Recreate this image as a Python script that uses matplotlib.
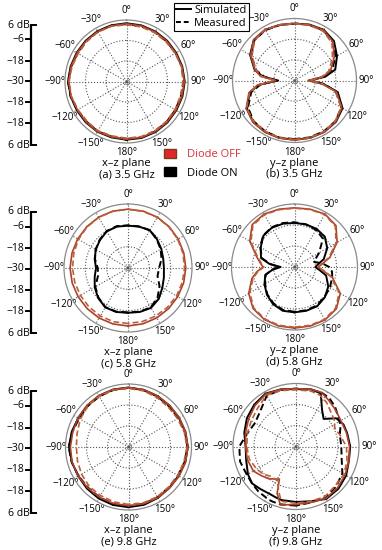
import numpy as np
import matplotlib.pyplot as plt
from matplotlib.lines import Line2D
from matplotlib.patches import Patch

plt.rcParams['font.family'] = ['Open Sans', 'DejaVu Sans']

W, H = 382, 550

# angle grids (deg)
theta_a = [-180, -165, -150, -135, -120, -105, -90, -75, -60, -45, -30, -15, 0,
           15, 30, 45, 60, 75, 90, 105, 120, 135, 150, 165, 180]
theta_b = [-180, -165, -150, -135, -120, -105, -97, -90, -83, -75, -60, -45, -30, -15, 0,
           15, 30, 45, 60, 75, 83, 90, 97, 105, 120, 135, 150, 165, 180]
theta_f = [-180, -165, -158, -153, -140, -130, -120, -105, -90, -75, -60, -45, -30, -15, 0,
           15, 25, 35, 45, 55, 65, 75, 90, 105, 120, 135, 150, 165, 180]

# (a) x-z plane, 3.5 GHz  (dB)
a_off_sim = [3.8, 3.6, 3.9, 3.5, 3.2, 3.6, 3.9, 3.6, 3.4, 3.5, 3.7, 3.8, 3.8,
             3.7, 3.5, 3.4, 3.3, 3.6, 3.9, 3.6, 3.4, 3.6, 3.8, 3.9, 3.8]
a_off_meas = [3.2, 3.0, 3.3, 2.8, 2.9, 3.4, 3.6, 3.1, 2.7, 3.0, 3.4, 3.5, 3.2,
              3.1, 3.0, 2.8, 2.9, 3.3, 3.1, 2.7, 2.8, 3.0, 3.2, 3.4, 3.2]
a_on_sim = [4.1, 3.9, 4.0, 3.8, 3.6, 3.8, 4.2, 3.9, 3.7, 3.8, 4.0, 4.1, 4.1,
            4.0, 3.8, 3.7, 3.6, 3.8, 4.1, 3.9, 3.7, 3.9, 4.1, 4.2, 4.1]
a_on_meas = [3.6, 3.4, 3.7, 3.2, 3.3, 3.9, 4.3, 3.5, 3.1, 3.4, 3.8, 3.9, 3.6,
             3.5, 3.3, 3.2, 3.3, 3.6, 3.4, 3.0, 3.1, 3.3, 3.6, 3.8, 3.6]

# (b) y-z plane, 3.5 GHz
b_off_sim = [4.6, 4.6, 4.6, 4.2, 2.4, -2.6, -8.4, -19.2, -10.2, -6.2, -0.5, 3.5, 4.2, 3.5, 3.1,
             3.5, 3.8, 1.7, -3.4, -8.4, -13.8, -22.1, -13.8, -4.8, 1.7, 3.8, 4.6, 4.6, 4.6]
b_off_meas = [4.2, 4.4, 4.0, 3.6, 2.0, -3.0, -9.0, -18.5, -11.0, -7.0, -1.5, 2.8, 4.0, 3.4, 3.0,
              3.2, 3.2, 0.8, -4.5, -9.5, -14.5, -21.0, -14.0, -5.5, 1.2, 3.4, 4.2, 4.4, 4.2]
b_on_sim = [4.4, 4.5, 4.4, 4.0, 2.0, -3.2, -9.0, -20.5, -11.5, -6.0, -0.2, 3.4, 4.0, 3.4, 3.0,
            3.6, 4.0, 2.4, -1.5, -5.5, -12.0, -21.5, -13.0, -4.0, 2.2, 4.0, 4.5, 4.5, 4.4]
b_on_meas = [4.0, 4.3, 4.1, 3.5, 1.2, -4.0, -10.0, -19.5, -12.5, -6.8, -1.0, 3.0, 3.8, 3.3, 3.2,
             3.4, 3.6, 1.6, -2.5, -7.5, -14.0, -20.5, -12.5, -5.0, 1.5, 3.5, 4.1, 4.2, 4.0]

# (c) x-z plane, 5.8 GHz
c_off_sim = [2.6, 2.6, 2.5, 2.4, 2.4, 2.5, 2.6, 2.6, 2.7, 2.8, 3.0, 3.1, 3.1,
             3.1, 3.0, 2.8, 2.6, 2.5, 2.5, 2.4, 2.3, 2.3, 2.4, 2.5, 2.6]
c_off_meas = [1.2, 1.3, 1.2, 1.0, 0.9, 1.0, 1.2, 1.6, 2.2, 2.6, 2.9, 3.0, 3.0,
              3.0, 2.9, 2.6, 2.3, 2.0, 1.8, 1.6, 1.5, 1.3, 1.2, 1.2, 1.2]
c_on_sim = [-4.8, -4.4, -4.4, -6.2, -8.4, -10.6, -12.0, -10.6, -9.1, -7.7, -6.2, -5.9, -6.2,
            -5.9, -5.5, -7.0, -8.4, -9.5, -9.8, -9.1, -7.7, -5.5, -4.1, -4.4, -4.8]
c_on_meas = [-5.0, -4.6, -4.6, -6.5, -8.8, -12.5, -13.0, -10.8, -9.0, -7.5, -6.0, -5.6, -6.0,
             -5.8, -5.4, -7.2, -8.8, -10.5, -12.5, -12.8, -9.5, -6.5, -4.4, -4.6, -5.0]

# (d) y-z plane, 5.8 GHz
d_off_sim = [4.9, 4.9, 4.6, 3.5, 0.2, -4.8, -8.4, -12.0, -10.2, -7.7, -0.5, 4.2, 4.9, 4.2, 3.8,
             4.2, 4.9, 3.5, -1.9, -9.1, -13.8, -16.3, -13.8, -7.7, 0.2, 3.8, 4.9, 4.9, 4.9]
d_off_meas = [4.4, 4.5, 4.2, 3.0, -0.5, -5.5, -9.0, -12.5, -10.8, -8.2, -1.2, 3.6, 4.5, 3.9, 3.6,
              4.0, 4.6, 3.0, -2.6, -9.8, -14.5, -17.0, -13.0, -8.4, -0.5, 3.2, 4.5, 4.5, 4.4]
d_on_sim = [-4.1, -4.1, -5.5, -7.7, -10.2, -12.7, -17.4, -22.1, -15.6, -10.2, -7.7, -4.8, -4.1, -4.4, -4.8,
            -4.8, -4.8, -5.5, -8.4, -12.7, -16.3, -18.1, -15.6, -11.3, -7.7, -5.5, -4.1, -4.1, -4.1]
d_on_meas = [-4.4, -4.6, -6.0, -8.0, -10.6, -13.0, -17.0, -21.0, -16.0, -10.8, -7.4, -4.6, -3.8, -4.0, -4.4,
             -4.8, -5.5, -7.0, -13.8, -18.5, -13.8, -10.2, -8.4, -7.7, -6.6, -5.8, -4.6, -4.4, -4.4]

# (e) x-z plane, 9.8 GHz
e_off_sim = [3.6, 3.4, 3.2, 3.0, 3.2, 3.4, 3.2, 3.0, 3.3, 3.6, 3.9, 4.0, 4.0,
             3.9, 3.6, 3.4, 3.5, 3.8, 4.0, 3.7, 3.4, 3.2, 3.5, 3.6, 3.6]
e_off_meas = [2.8, 2.5, 2.0, 1.8, 1.0, 0.2, -0.2, 0.4, 1.8, 3.0, 3.4, 3.6, 3.5,
              3.2, 2.6, 2.2, 2.4, 3.0, 3.4, 2.8, 2.5, 2.4, 2.8, 3.0, 2.8]
e_on_sim = [4.4, 4.3, 4.0, 3.6, 3.2, 3.5, 4.0, 3.6, 3.2, 3.4, 3.8, 4.0, 4.0,
            3.8, 3.5, 3.3, 3.3, 3.6, 3.9, 3.6, 3.0, 3.0, 3.6, 4.2, 4.4]
e_on_meas = [3.8, 3.6, 3.2, 2.8, 3.0, 3.6, 4.2, 3.2, 2.6, 3.0, 3.4, 3.7, 3.8,
             3.6, 3.3, 2.8, 2.8, 3.4, 3.7, 3.2, 2.6, 2.6, 3.2, 3.6, 3.8]

# (f) y-z plane, 9.8 GHz
f_off_sim = [3.1, 4.6, -1.2, -9.1, -5.9, -4.1, -1.9, -1.2, -1.2, -0.1, 1.3, 3.1, 4.6, 3.8, 3.1,
             3.8, 4.2, 2.4, 1.0, -0.1, -0.5, -0.1, 0.6, 1.3, 2.4, 3.5, 4.2, 3.1, 3.1]
f_off_meas = [2.4, 2.4, -3.0, -7.7, -7.7, -5.5, -4.1, -2.3, -1.9, -1.2, -0.5, 1.0, 3.8, 3.1, 2.4,
              2.8, 2.4, 0.6, -1.9, -3.4, -5.5, -4.1, -1.2, 0.2, 1.7, 1.7, 3.1, 2.4, 2.4]
f_on_sim = [1.7, 1.7, 1.3, 1.0, 1.7, 2.8, 1.7, -0.5, -1.2, 0.6, 2.4, 3.8, 4.9, 3.8, 2.8,
            3.8, 3.5, -4.1, -7.7, -1.9, -0.1, 0.2, 1.0, 1.3, 3.1, 4.2, 4.6, 2.4, 1.7]
f_on_meas = [3.8, 4.2, 4.2, 4.2, 3.5, 2.8, 2.4, 3.1, 2.4, -1.2, -3.0, -1.2, 3.5, 3.5, 3.1,
             3.5, 4.2, 3.5, 1.7, -0.5, -1.9, -4.1, -4.1, -3.0, 0.6, 2.4, 3.8, 3.1, 3.8]

grid_angles = list(range(0, 360, 30))
grid_labels = ['0°', '30°', '60°', '90°', '120°', '150°', '180°',
               '\u2212150°', '\u2212120°', '\u221290°', '\u221260°', '\u221230°']
bar_labels = ['6 dB', '\u22126', '\u221218', '\u221230', '\u221218', '\u221218', '6 dB']
bar_pos = [0.0, 0.12, 0.3, 0.47, 0.645, 0.82, 1.0]

RED = '#a9432b'
RED2 = '#bd5e3a'

fig = plt.figure(figsize=(W / 100, H / 100), dpi=100)


def polar_panel(cx, cy, R, theta, off_sim, off_meas, on_sim, on_meas, plane, cap):
    ax = fig.add_axes([(cx - R) / W, 1 - (cy + R) / H, 2 * R / W, 2 * R / H],
                      projection='polar')
    ax.set_theta_zero_location('N')
    ax.set_theta_direction(-1)
    ax.set_rlim(-30, 6)
    ax.set_rticks([-18, -6])
    ax.set_yticklabels([])
    ax.set_thetagrids(grid_angles, grid_labels)
    ax.tick_params(axis='x', pad=-3.5, labelsize=7)
    ax.grid(True, ls=':', lw=0.8, color='#555555')
    ax.spines['polar'].set_color('#8a8a8a')
    ax.spines['polar'].set_linewidth(0.9)
    t = np.deg2rad(theta)
    ax.plot(t, on_sim, color='black', lw=1.4)
    ax.plot(t, on_meas, color='black', lw=1.4, ls=(0, (3.5, 1.8)))
    ax.plot(t, off_sim, color=RED, lw=1.2)
    ax.plot(t, off_meas, color=RED2, lw=1.2, ls=(0, (3.5, 1.8)))
    ax.plot([0], [-30], 'o', mfc='none', mec='#777777', ms=3, mew=0.6)
    fig.text(cx / W, 1 - (cy + R + 21) / H, plane, ha='center', va='center', fontsize=8)
    fig.text(cx / W, 1 - (cy + R + 32) / H, cap, ha='center', va='center', fontsize=8)


def scale_bar(top, bottom):
    h = bottom - top
    bx = fig.add_axes([0, 1 - bottom / H, 45 / W, h / H])
    bx.set_xlim(0, 45)
    bx.set_ylim(h, 0)
    bx.axis('off')
    x0 = 31
    bx.plot([x0, x0], [0, h], color='black', lw=1.6, solid_capstyle='butt', clip_on=False)
    for lab, p in zip(bar_labels, bar_pos):
        y = p * h
        if lab == '6 dB':
            bx.plot([x0, x0 + 5], [y, y], color='black', lw=1.4, clip_on=False)
            bx.text(x0 - 1.5, y, lab, ha='right', va='center', fontsize=7.5, clip_on=False)
        else:
            bx.plot([x0 - 5, x0], [y, y], color='black', lw=1.4, clip_on=False)
            bx.text(x0 - 7, y, lab, ha='right', va='center', fontsize=7.5, clip_on=False)


polar_panel(126.5, 81.5, 61.5, theta_a, a_off_sim, a_off_meas, a_on_sim, a_on_meas,
            'x\u2013z plane', '(a) 3.5 GHz')
polar_panel(294.5, 80.5, 62, theta_b, b_off_sim, b_off_meas, b_on_sim, b_on_meas,
            'y\u2013z plane', '(b) 3.5 GHz')
polar_panel(128, 268, 64, theta_a, c_off_sim, c_off_meas, c_on_sim, c_on_meas,
            'x\u2013z plane', '(c) 5.8 GHz')
polar_panel(294.5, 267, 63, theta_b, d_off_sim, d_off_meas, d_on_sim, d_on_meas,
            'y\u2013z plane', '(d) 5.8 GHz')
polar_panel(128.5, 447, 63, theta_a, e_off_sim, e_off_meas, e_on_sim, e_on_meas,
            'x\u2013z plane', '(e) 9.8 GHz')
polar_panel(296, 446.5, 63, theta_f, f_off_sim, f_off_meas, f_on_sim, f_on_meas,
            'y\u2013z plane', '(f) 9.8 GHz')

scale_bar(25, 145)
scale_bar(212, 333)
scale_bar(391, 513)

leg1 = fig.legend([Line2D([], [], color='black', lw=1.4),
                   Line2D([], [], color='black', lw=1.4, ls=(0, (2.5, 1.5)))],
                  ['Simulated', 'Measured'], loc='upper left',
                  bbox_to_anchor=(174 / W, 1 - 3 / H), fontsize=8, frameon=True,
                  fancybox=False, edgecolor='black', framealpha=1,
                  handlelength=1.3, handletextpad=0.3, borderpad=0.2,
                  labelspacing=0.15, borderaxespad=0)
leg1.get_frame().set_linewidth(0.8)

leg2 = fig.legend([Patch(facecolor='#e0262a', edgecolor='#7a3a1e', lw=1.0),
                   Patch(facecolor='black', edgecolor='black')],
                  ['Diode OFF', 'Diode ON'], loc='upper left',
                  bbox_to_anchor=(164 / W, 1 - 149 / H), fontsize=8, frameon=False,
                  handlelength=1.1, handleheight=0.9, handletextpad=1.0,
                  labelspacing=0.6, borderaxespad=0, borderpad=0)
leg2.get_texts()[0].set_color('#d8303a')

fig.savefig('out.png', dpi=100)
